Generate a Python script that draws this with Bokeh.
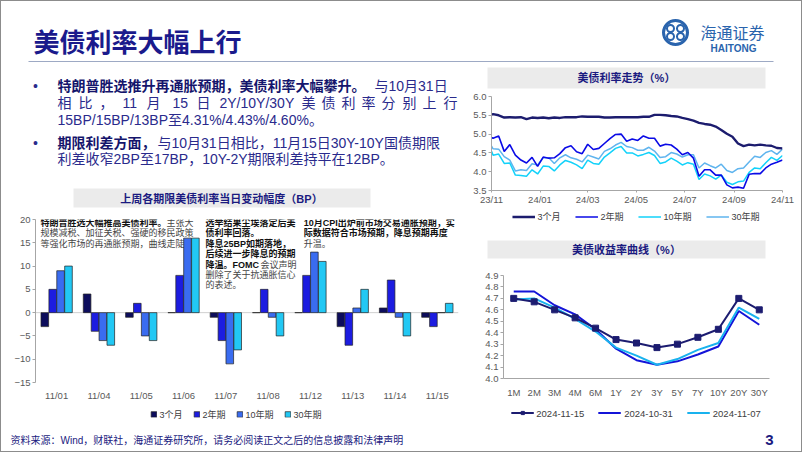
import pandas as pd
from bokeh.plotting import figure
from bokeh.layouts import column, row
from bokeh.models import (Range1d, FactorRange, Legend, LegendItem, Span, Spacer,
                          FixedTicker, DatetimeTickFormatter, NumeralTickFormatter,
                          ColumnDataSource)
from bokeh.transform import dodge
from bokeh.core.properties import value
from bokeh.embed import file_html
from bokeh.resources import INLINE

# ---------------- data ----------------
# Daily change of US Treasury yields last week (BP)
days = ["11/01", "11/04", "11/05", "11/06", "11/07", "11/08", "11/12", "11/13", "11/14", "11/15"]
chg_3m = [-3, 4, -1, 0, -1, 0, 0, -3, 1, -1]
chg_2y = [5, -4, 2, 8, -6, 5, 8, -7, 7, -3]
chg_10y = [9, -6, -5, 16, -11, -1, 13, 1, -1, 0]
chg_30y = [10, -7, -6, 16, -8, -5, 11, 5, -5, 2]
bar_series = ["3个月", "2年期", "10年期", "30年期"]

# US Treasury yield trend (%), weekly readings
dates = ["2023-11-15", "2023-11-17", "2023-11-24",
         "2023-12-01", "2023-12-08", "2023-12-15", "2023-12-22", "2023-12-29",
         "2024-01-05", "2024-01-12", "2024-01-19", "2024-01-26",
         "2024-02-02", "2024-02-09", "2024-02-16", "2024-02-23",
         "2024-03-01", "2024-03-08", "2024-03-15", "2024-03-22", "2024-03-29",
         "2024-04-05", "2024-04-12", "2024-04-19", "2024-04-26",
         "2024-05-03", "2024-05-10", "2024-05-17", "2024-05-24", "2024-05-31",
         "2024-06-07", "2024-06-14", "2024-06-21", "2024-06-28",
         "2024-07-05", "2024-07-12", "2024-07-19", "2024-07-26",
         "2024-08-02", "2024-08-09", "2024-08-16", "2024-08-23", "2024-08-30",
         "2024-09-06", "2024-09-13", "2024-09-20", "2024-09-27",
         "2024-10-04", "2024-10-11", "2024-10-18", "2024-10-25",
         "2024-11-01", "2024-11-08", "2024-11-15"]
yld_3m = [5.52, 5.53, 5.50,
          5.44, 5.45, 5.44, 5.45, 5.40,
          5.44, 5.43, 5.44, 5.42,
          5.44, 5.43, 5.45, 5.45,
          5.45, 5.47, 5.46, 5.46, 5.46,
          5.44, 5.44, 5.45, 5.45,
          5.45, 5.45, 5.45, 5.46, 5.46,
          5.51, 5.51, 5.50, 5.48,
          5.47, 5.43, 5.40, 5.36,
          5.30, 5.27, 5.25, 5.20, 5.11,
          5.01, 4.93, 4.75, 4.68,
          4.72, 4.70, 4.72, 4.70,
          4.69, 4.63, 4.62]
yld_2y = [4.91, 4.89, 4.95,
          4.54, 4.72, 4.44, 4.31, 4.23,
          4.38, 4.14, 4.39, 4.36,
          4.37, 4.48, 4.64, 4.69,
          4.53, 4.48, 4.73, 4.59, 4.62,
          4.75, 4.88, 4.99, 5.00,
          4.81, 4.87, 4.83, 4.95, 4.89,
          4.89, 4.68, 4.73, 4.71,
          4.60, 4.45, 4.51, 4.36,
          3.88, 4.05, 4.05, 3.91, 3.91,
          3.65, 3.57, 3.59, 3.56,
          3.93, 3.95, 3.95, 4.10,
          4.20, 4.25, 4.31]
yld_10y = [4.54, 4.44, 4.47,
           4.22, 4.23, 3.91, 3.90, 3.88,
           4.05, 3.94, 4.15, 4.14,
           4.02, 4.18, 4.30, 4.25,
           4.18, 4.08, 4.31, 4.22, 4.20,
           4.39, 4.50, 4.62, 4.67,
           4.50, 4.50, 4.42, 4.46, 4.51,
           4.43, 4.22, 4.26, 4.36,
           4.28, 4.18, 4.24, 4.20,
           3.79, 3.94, 3.89, 3.80, 3.91,
           3.72, 3.66, 3.73, 3.75,
           3.98, 4.10, 4.08, 4.24,
           4.38, 4.30, 4.43]
yld_30y = [4.68, 4.61, 4.60,
           4.40, 4.31, 4.02, 4.05, 4.03,
           4.21, 4.18, 4.37, 4.37,
           4.22, 4.37, 4.45, 4.37,
           4.33, 4.26, 4.44, 4.39, 4.34,
           4.54, 4.61, 4.71, 4.78,
           4.67, 4.64, 4.57, 4.57, 4.65,
           4.55, 4.38, 4.40, 4.51,
           4.47, 4.39, 4.45, 4.45,
           4.10, 4.23, 4.16, 4.10, 4.20,
           4.03, 3.98, 4.08, 4.10,
           4.26, 4.41, 4.38, 4.51,
           4.56, 4.46, 4.60]
trend_ticks = ["2023-11-15", "2024-01-15", "2024-03-15", "2024-05-15",
               "2024-07-15", "2024-09-15", "2024-11-15"]

# US Treasury yield curve (%)
tenors = ["1M", "2M", "3M", "4M", "6M", "1Y", "2Y", "3Y", "5Y", "7Y", "10Y", "20Y", "30Y"]
curve_1115 = [4.70, 4.67, 4.60, 4.53, 4.44, 4.34, 4.31, 4.27, 4.30, 4.36, 4.43, 4.70, 4.60]
curve_1031 = [4.76, 4.76, 4.64, 4.56, 4.43, 4.26, 4.16, 4.12, 4.15, 4.21, 4.28, 4.59, 4.47]
curve_1107 = [4.69, 4.70, 4.62, 4.52, 4.41, 4.27, 4.20, 4.12, 4.17, 4.25, 4.31, 4.62, 4.52]

# ---------------- styling helpers ----------------
FONT = "Liberation Sans, Noto Sans CJK SC"
AXC = "#595959"
FRAME = "#8c8c8c"
NAN = [float("nan")]


def noalign(p):
    try:
        p.frame_align = False
    except Exception:
        pass
    return p


def canvas(x0, x1, y0, y1):
    """A blank drawing area whose data coordinates are the page's pixel coordinates."""
    p = figure(width=x1 - x0, height=y1 - y0, x_range=Range1d(x0, x1), y_range=Range1d(y1, y0),
               x_axis_type=None, y_axis_type=None, output_backend="svg",
               toolbar_location=None, min_border=0)
    p.outline_line_color = None
    return noalign(p)


def txt(p, x, y, s, size, color, bold=False, align="left"):
    p.text(x=[x], y=[y], text=[s], text_font=value(FONT), text_font_size=f"{size}px",
           text_color=color, text_font_style="bold" if bold else "normal",
           text_align=align, text_baseline="middle")


def style_axes(p, size="9.5px"):
    for ax in p.axis:
        ax.major_label_text_font = FONT
        ax.major_label_text_font_size = size
        ax.major_label_text_color = AXC
        ax.axis_line_color = "#a6a6a6"
        ax.major_tick_line_color = "#a6a6a6"
        ax.minor_tick_line_color = None
        ax.major_tick_in = 0
        ax.major_tick_out = 3
        ax.major_label_standoff = 2
    p.xgrid.visible = False
    p.ygrid.visible = False
    p.outline_line_color = None
    noalign(p)


def make_legend(items, size="9px", gw=23, gh=8, spacing=14):
    return Legend(items=items, orientation="horizontal", location="center",
                  glyph_width=gw, glyph_height=gh, label_standoff=3, spacing=spacing,
                  padding=0, margin=0, label_height=10, border_line_color=None,
                  background_fill_alpha=0, label_text_font_size=size,
                  label_text_font=FONT, label_text_color="#404040")


# ---------------- header (page x 1-801, y 1-62) ----------------
hdr = canvas(1, 801, 1, 62)
txt(hdr, 33, 42, "美债利率大幅上行", 26, "#1a1a8c", bold=True)
hdr.segment(x0=[28], y0=[61.5], x1=[773], y1=[61.5], line_color="#7d8cb0", line_width=1.3)
hdr.circle(x=[675], y=[32], radius=12, fill_color=None, line_color="#2a64ad", line_width=3)
hdr.circle(x=[670, 680, 670, 680], y=[28, 28, 36, 36], radius=3.5, fill_color=None,
           line_color="#2a64ad", line_width=2)
txt(hdr, 700, 33, "海通证券", 16, "#2a64ad", bold=False)
txt(hdr, 733, 47.5, "HAITONG", 10, "#2a64ad", bold=True, align="center")

# ---------------- bullet text (page x 1-470, y 62-212) ----------------
tf = canvas(1, 470, 62, 212)
B = "#15156c"
R = "#2a2a8c"
txt(tf, 35, 85, "•", 14, R, align="center")
txt(tf, 57, 85, "特朗普胜选推升再通胀预期，美债利率大幅攀升。", 14, B, True)
txt(tf, 374, 85, "与10月31日", 14, R)
line2 = [(57, "相"), (78, "比"), (99, "，"), (122, "11"), (146, "月"), (172, "15"),
         (196, "日"), (219, "2Y/10Y/30Y"), (301, "美"), (321, "债"), (341, "利"),
         (361, "率"), (381, "分"), (402, "别"), (422, "上"), (443, "行")]
for x, s in line2:
    txt(tf, x, 102, s, 14, R)
txt(tf, 57, 119, "15BP/15BP/13BP至4.31%/4.43%/4.60%。", 14, R)
txt(tf, 35, 142, "•", 14, R, align="center")
txt(tf, 57, 142, "期限利差方面，", 14, B, True)
txt(tf, 157, 142, "与10月31日相比，11月15日30Y-10Y国债期限", 14, R)
txt(tf, 57, 158.5, "利差收窄2BP至17BP，10Y-2Y期限利差持平在12BP。", 14, R)
tf.quad(left=[73], right=[370], top=[188], bottom=[207], fill_color="#ebebeb", line_color=None)
txt(tf, 221, 198, "上周各期限美债利率当日变动幅度（BP）", 11, "#1a1a80", True, "center")

# ---------------- bar chart (page x 1-470, y 212-403) ----------------
bp = figure(width=469, height=191, x_range=FactorRange(*days), y_range=Range1d(-15, 20),
            output_backend="svg", toolbar_location=None,
            min_border_left=34, min_border_right=12, min_border_top=7, min_border_bottom=19)
style_axes(bp)
bp.yaxis.ticker = FixedTicker(ticks=[-15, -10, -5, 0, 5, 10, 15, 20])
bp.xaxis.axis_line_color = None
bp.xaxis.major_tick_line_color = None
bp.xaxis.major_label_standoff = 4
zero = Span(location=0, dimension="width", line_color="#d0d0d0", line_width=1, level="underlay")
bp.add_layout(zero)

PXU = 42.3     # pixels per category
PYU = 4.723    # pixels per BP


def ay(k):
    return 20 - (3.3 + 10.6 * k) / PYU


BK = "#111111"
GR = "#454545"
ann = [
    (0.12, 0, "特朗普胜选大幅推高美债利率。", BK, True),
    (0.12 + 126 / PXU, 0, "主张大", GR, False),
    (0.12, 1, "规模减税、加征关税、强硬的移民政策", GR, False),
    (0.12, 2, "等强化市场的再通胀预期，曲线走陡。", GR, False),
    (4.02, 0, "选举结果尘埃落定后美", BK, True),
    (4.02, 1, "债利率回落。", BK, True),
    (4.02, 2, "降息25BP如期落地，", BK, True),
    (4.02, 3, "后续进一步降息的预期", BK, True),
    (4.02, 4, "降温。FOMC", BK, True),
    (4.02 + 55 / PXU, 4, "会议声明", GR, False),
    (4.02, 5, "删除了关于抗通胀信心", GR, False),
    (4.02, 6, "的表述。", GR, False),
    (6.34, 0, "10月CPI出炉前市场交易通胀预期，实", BK, True),
    (6.34, 1, "际数据符合市场预期，降息预期再度", BK, True),
    (6.34, 2, "升温。", GR, False),
]
for x, k, s, c, b in ann:
    bp.text(x=[x], y=[ay(k)], text=[s], text_font=value(FONT), text_font_size="9px",
            text_color=c, text_font_style="bold" if b else "normal",
            text_align="left", text_baseline="middle")

src = ColumnDataSource(dict(days=days, m3=chg_3m, y2=chg_2y, y10=chg_10y, y30=chg_30y))
bar_colors = ["#0d0d5c", "#1c1ce0", "#3a6cf0", "#22c8f4"]
specs = [("m3", -0.28), ("y2", -0.093), ("y10", 0.093), ("y30", 0.28)]
for (col, off), color in zip(specs, bar_colors):
    bp.vbar(x=dodge("days", off, range=bp.x_range), top=col, bottom=0, width=0.18,
            source=src, fill_color=color, line_color="#222222", line_width=0.7)

# bar legend strip (page x 1-470, y 403-425); swatch renderers hold no visible data
bl = canvas(1, 470, 403, 425)
bitems = []
for lab, color in zip(bar_series, bar_colors):
    r = bl.vbar(x=NAN, top=NAN, width=1, fill_color=color, line_color="#222222", line_width=0.7)
    bitems.append(LegendItem(label=lab, renderers=[r]))
bl.add_layout(make_legend(bitems, gw=7, gh=7, spacing=10))

# ---------------- right: trend chart ----------------
rt1 = canvas(470, 801, 62, 92)
rt1.quad(left=[487], right=[765], top=[67], bottom=[88], fill_color="#ebebeb", line_color=None)
txt(rt1, 626, 77.5, "美债利率走势（%）", 11, "#1a1a80", True, "center")

dt = pd.to_datetime(dates)
lp = figure(width=331, height=115, x_axis_type="datetime",
            x_range=Range1d(pd.Timestamp(trend_ticks[0]), pd.Timestamp(trend_ticks[-1])),
            y_range=Range1d(3.5, 6.0), output_backend="svg", toolbar_location=None,
            min_border_left=20, min_border_right=19, min_border_top=4, min_border_bottom=14)
style_axes(lp)
lp.xaxis.ticker = FixedTicker(ticks=[pd.Timestamp(t).value // 10**6 for t in trend_ticks])
lp.xaxis.formatter = DatetimeTickFormatter(days="%y/%m", months="%y/%m", years="%y/%m")
lp.xaxis.major_tick_out = 2
lp.xaxis.major_label_standoff = 1
lp.yaxis.ticker = FixedTicker(ticks=[3.5, 4.0, 4.5, 5.0, 5.5, 6.0])
lp.yaxis.formatter = NumeralTickFormatter(format="0.0")
trend_style = {"3个月": ("#1c1c6e", 2.4), "2年期": ("#0a0ae6", 1.6),
               "10年期": ("#12d2fa", 1.5), "30年期": ("#5fb4ee", 1.5)}
for ys, lab in [(yld_30y, "30年期"), (yld_10y, "10年期"), (yld_2y, "2年期"), (yld_3m, "3个月")]:
    c, w = trend_style[lab]
    lp.line(dt, ys, line_color=c, line_width=w)

ll = canvas(470, 801, 207, 225)
litems = []
for lab in ["3个月", "2年期", "10年期", "30年期"]:
    c, w = trend_style[lab]
    litems.append(LegendItem(label=lab, renderers=[ll.line(x=NAN, y=NAN, line_color=c, line_width=w)]))
ll.add_layout(make_legend(litems))

# ---------------- right: yield curve ----------------
rt2 = canvas(470, 801, 225, 261)
rt2.quad(left=[487], right=[765], top=[240], bottom=[258], fill_color="#ebebeb", line_color=None)
txt(rt2, 626, 249, "美债收益率曲线（%）", 11, "#1a1a80", True, "center")

cp = figure(width=331, height=139, x_range=FactorRange(*tenors), y_range=Range1d(4.0, 4.9),
            output_backend="svg", toolbar_location=None,
            min_border_left=33, min_border_right=32, min_border_top=14, min_border_bottom=18)
style_axes(cp)
cp.yaxis.ticker = FixedTicker(ticks=[4.0, 4.1, 4.2, 4.3, 4.4, 4.5, 4.6, 4.7, 4.8, 4.9])
cp.yaxis.formatter = NumeralTickFormatter(format="0.0")
cp.xaxis.major_tick_line_color = None
cp.xaxis.major_label_standoff = 5
curve_style = {"2024-11-15": "#1c1c70", "2024-10-31": "#1414d8", "2024-11-07": "#19b2ee"}
cp.line(tenors, curve_1031, line_color=curve_style["2024-10-31"], line_width=2)
cp.line(tenors, curve_1107, line_color=curve_style["2024-11-07"], line_width=2)
cp.line(tenors, curve_1115, line_color=curve_style["2024-11-15"], line_width=2)
cp.scatter(tenors, curve_1115, marker="square", size=6, fill_color=curve_style["2024-11-15"],
           line_color=curve_style["2024-11-15"])

cl = canvas(470, 801, 400, 425)
citems = []
for lab in ["2024-11-15", "2024-10-31", "2024-11-07"]:
    c = curve_style[lab]
    rs = [cl.line(x=NAN, y=NAN, line_color=c, line_width=2)]
    if lab == "2024-11-15":
        rs.append(cl.scatter(x=NAN, y=NAN, marker="square", size=6, fill_color=c, line_color=c))
    citems.append(LegendItem(label=lab, renderers=rs))
cl.add_layout(make_legend(citems, size="9.5px"))

# ---------------- footer (page y 425-451) ----------------
ft = canvas(1, 801, 425, 451)
txt(ft, 10, 440, "资料来源：Wind，财联社，海通证券研究所，请务必阅读正文之后的信息披露和法律声明", 10, "#1a1a80")
txt(ft, 769, 439, "3", 15, "#1a1a80", True, "center")

left = column(tf, bp, bl)
right = column(rt1, lp, ll, rt2, cp, cl)
main = column(hdr, row(left, right), ft)


def bar(w, h):
    return Spacer(width=w, height=h, styles={"background-color": FRAME})


page = column(bar(802, 1), row(bar(1, 450), main, bar(1, 450)), bar(802, 1))

open("out.html", "w").write(file_html(page, INLINE))
